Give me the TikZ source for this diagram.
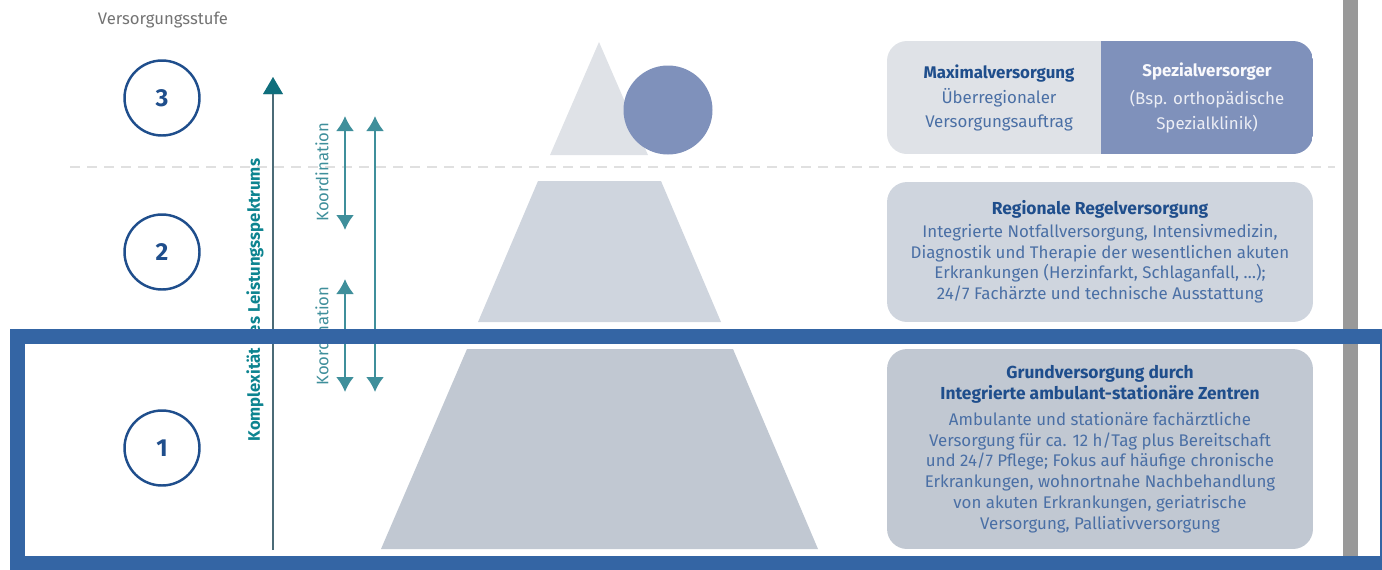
\documentclass[tikz,border=0pt]{standalone}
\usepackage{fontspec}
\setmainfont{Fira Sans}
\usepackage{xcolor}
\usetikzlibrary{arrows.meta,positioning}
\definecolor{stufeblau}{HTML}{1F4E8C}
\definecolor{rahmenblau}{HTML}{3465A4}
\definecolor{textblau}{HTML}{4A6FA5}
\definecolor{pfeilteal}{HTML}{0F6E7C}
\definecolor{pfeilgrau}{HTML}{4B6B77}
\definecolor{koordteal}{HTML}{3F8F9B}
\definecolor{spitze}{HTML}{DFE2E7}
\definecolor{mitte}{HTML}{CFD5DE}
\definecolor{basis}{HTML}{C1C8D2}
\definecolor{spezial}{HTML}{7F91BB}

\begin{document}
\begin{tikzpicture}[x=0.02cm,y=-0.02cm,
    stufe/.style={circle, draw=stufeblau, line width=1.4pt, minimum size=1.5cm, inner sep=0pt,
      text=stufeblau, font=\fontsize{14}{14}\selectfont\bfseries},
    infobox/.style={rounded corners=0.4cm, minimum width=8.52cm, align=center,
      text=textblau, font=\fontsize{9.6}{11.8}\selectfont},
    koord/.style={{Latex[length=0.3cm,width=0.36cm]}-{Latex[length=0.3cm,width=0.36cm]}, koordteal, line width=1.2pt},
    koordtext/.style={rotate=90, text=koordteal, font=\fontsize{9.5}{10}\selectfont}]
  \useasboundingbox (0,0) rectangle (1382,569);
  \clip (0,0) rectangle (1382,569);

  % Pyramide
  \fill[spitze] (599,42) -- (648,155) -- (550,155) -- cycle;
  \fill[spezial] (668,110) circle[radius=44.5];
  \fill[mitte] (538,181) -- (661,181) -- (721,322) -- (478,322) -- cycle;
  \fill[basis] (467,349) -- (733,349) -- (818,549) -- (381,549) -- cycle;

  % Trennlinie
  \draw[dash pattern=on 0.2cm off 0.14cm, line width=1.2pt, black!12] (70,167) -- (1335,167);

  % Kaesten rechts
  \begin{scope}
    \clip[rounded corners=0.4cm] (887,41) rectangle (1313,154);
    \fill[spitze] (887,41) rectangle (1101,154);
    \fill[spezial] (1101,41) rectangle (1313,154);
  \end{scope}
  \node[align=center, text=textblau, font=\fontsize{9.6}{14}\selectfont] (max) at (999,98)
    {\textcolor{stufeblau}{\bfseries Maximalversorgung}\\Überregionaler\\Versorgungsauftrag};
  \node[align=center, text=white!85!spezial, font=\fontsize{9.6}{14}\selectfont] (spez) at (1207,98)
    {\textcolor{white!95!spezial}{\bfseries Spezialversorger}\\[2pt](Bsp. orthopädische\\Spezialklinik)};
  \node[infobox, fill=mitte, minimum height=2.8cm] (regel) at (1100,252)
    {\textcolor{stufeblau}{\fontsize{9.9}{11.8}\selectfont\bfseries Regionale Regelversorgung}\\[1pt]
     Integrierte Notfallversorgung, Intensivmedizin,\\
     Diagnostik und Therapie der wesentlichen akuten\\
     Erkrankungen (Herzinfarkt, Schlaganfall, \dots);\\
     24/7 Fachärzte und technische Ausstattung};
  \node[infobox, fill=basis, minimum height=4cm] (grund) at (1100,449)
    {\textcolor{stufeblau}{\fontsize{9.9}{11.8}\selectfont\bfseries Grundversorgung durch}\\
     \textcolor{stufeblau}{\fontsize{9.9}{11.8}\selectfont\bfseries Integrierte ambulant-stationäre Zentren}\\[3pt]
     Ambulante und stationäre fachärztliche\\
     Versorgung für ca. 12 h/Tag plus Bereitschaft\\
     und 24/7 Pflege; Fokus auf häufige chronische\\
     Erkrankungen, wohnortnahe Nachbehandlung\\
     von akuten Erkrankungen, geriatrische\\
     Versorgung, Palliativversorgung};

  % Stufen
  \node[text=black!55, font=\fontsize{9.5}{10}\selectfont] (kopf) at (163,20) {Versorgungsstufe};
  \foreach \y/\name in {98/3,252/2,448/1}{\node[stufe] (s\name) at (162,\y) {\name};}

  % Komplexitaet
  \coordinate (kunten) at (273,550);
  \coordinate (koben) at (273,77);
  \draw[-{Latex[length=0.34cm,width=0.4cm]}, pfeilgrau, line width=1.6pt] (kunten) -- (koben);
  \fill[pfeilteal] (koben) -- ++(-10,17) -- ++(20,0) -- cycle;
  \node[rotate=90, text=pfeilteal!85!cyan, font=\fontsize{9.5}{10}\selectfont\bfseries] (komplex) at (255,300)
    {Komplexität des Leistungsspektrums};

  % Koordination
  \coordinate (a1) at (345,116); \coordinate (a2) at (345,230);
  \coordinate (b1) at (345,279); \coordinate (b2) at (345,392);
  \coordinate (c1) at (375,116); \coordinate (c2) at (375,392);
  \draw[koord] (a1) -- (a2);
  \draw[koord] (b1) -- (b2);
  \draw[koord] (c1) -- (c2);
  \node[koordtext] (koordA) at (322,172) {Koordination};
  \node[koordtext] (koordB) at (322,336) {Koordination};

  % Rand und Markierung
  \fill[black!40] (1343,0) rectangle (1358,556);
  \draw[rahmenblau, line width=0.3cm] (17.5,336.5) rectangle (1387,563.5);
\end{tikzpicture}
\end{document}
